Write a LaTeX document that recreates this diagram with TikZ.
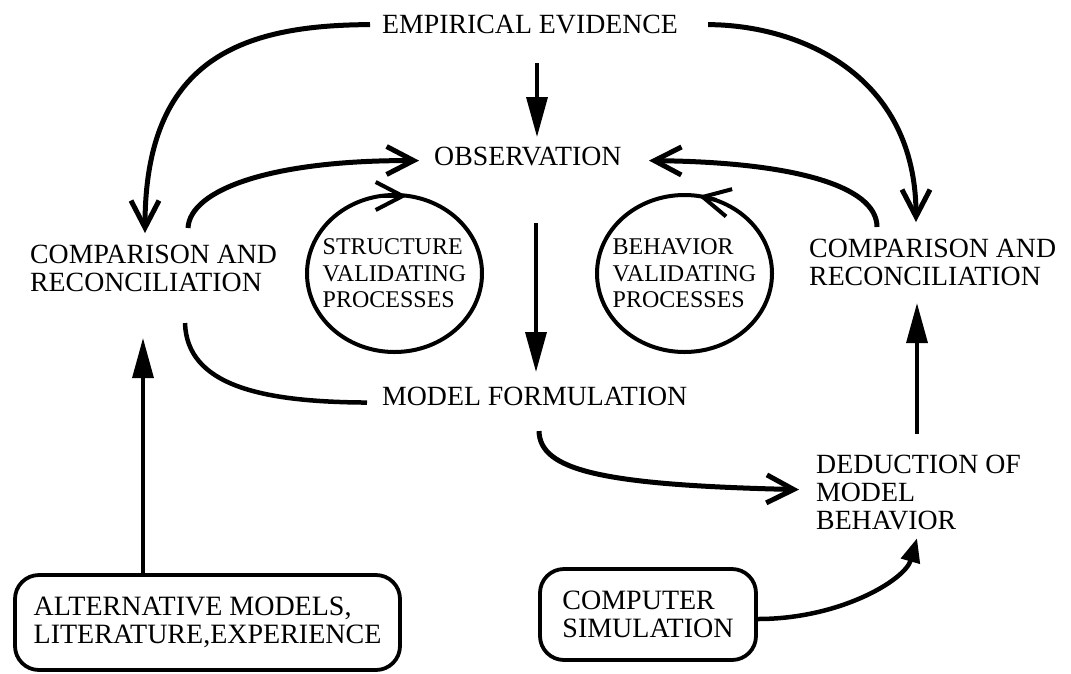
\documentclass[tikz,border=0pt]{standalone}
\usepackage{fontspec}
\setmainfont{Liberation Serif}
\usepackage{tikz}
\usetikzlibrary{positioning, arrows.meta, shapes.geometric}

\begin{document}
\begin{tikzpicture}[x=1pt, y=-1pt,
    lbl/.style={inner sep=0pt, anchor=north west, align=left, font=\fontsize{27.8}{28}\selectfont},
    cyc/.style={inner sep=0pt, align=left, font=\fontsize{24}{26.5}\selectfont},
    ring/.style={line width=4pt},
    src/.style={draw, rounded corners=24pt, line width=3.8pt, inner sep=0pt, align=left, font=\fontsize{28}{27.5}\selectfont},
    curvy/.style={line width=5pt, -{Straight Barb[length=27pt,width=28pt]}},
    bare/.style={line width=4.5pt},
    upright/.style={line width=3.5pt, -{Triangle[length=40pt,width=21pt]}},
    nudge/.style={line width=4.5pt, -{Triangle[length=24pt,width=19pt]}}]
        \useasboundingbox (0,0) rectangle (1071,673);
        \node[lbl] (EV) at (382,15) {EMPIRICAL EVIDENCE};
        \node[lbl] (OB) at (434,147) {OBSERVATION};
        \node[lbl] (CL) at (30,245) {COMPARISON AND\\RECONCILIATION};
        \node[lbl] (CR) at (809,239) {COMPARISON AND\\RECONCILIATION};
        \node[lbl] (MF) at (382,387) {MODEL FORMULATION};
        \node[lbl] (DB) at (816,455) {DEDUCTION OF\\MODEL\\BEHAVIOR};
        \node[cyc] (SV) at (394.5,273.5) {STRUCTURE\\VALIDATING\\PROCESSES};
        \node[cyc] (BV) at (684.5,273.5) {BEHAVIOR\\VALIDATING\\PROCESSES};
        \node[src, minimum width=385pt, minimum height=95pt] (AM) at (207.5,622.5) {ALTERNATIVE MODELS,\\LITERATURE,EXPERIENCE};
        \node[src, minimum width=216pt, minimum height=91pt] (CS) at (648,614.5) {COMPUTER\\SIMULATION};
        \draw[ring] (SV.center) ellipse [x radius=87.5pt, y radius=78.5pt];
        \draw[ring] (BV.center) ellipse [x radius=87.5pt, y radius=78.5pt];
        \draw[curvy] ([xshift=-12pt]EV.west) .. controls (240,25) and (145,60) .. ([xshift=115pt,yshift=12pt]CL.north west);
        \draw[curvy] ([xshift=30pt]EV.east) .. controls (800,25) and (916,75) .. ([xshift=107pt,yshift=17pt]CR.north west);
        \draw[curvy] ([xshift=158pt,yshift=17pt]CL.north west) .. controls (190,190) and (270,160) .. ([xshift=-15pt,yshift=-4pt]OB.west);
        \draw[curvy] ([xshift=68pt,yshift=12pt]CR.north west) .. controls (877,185) and (790,162) .. ([xshift=215pt,yshift=-4pt]OB.west);
        \draw[bare] ([xshift=155pt,yshift=-31pt]CL.south west) .. controls (187,385) and (260,402) .. ([xshift=-15pt,yshift=-6pt]MF.west);
        \draw[curvy] ([xshift=157pt,yshift=-25pt]MF.south west) .. controls (540,470) and (600,485) .. ([xshift=-17pt,yshift=3pt]DB.west);
        \draw[nudge] ([yshift=-4.5pt]CS.east) .. controls (840,619) and (905,580) .. ([xshift=101pt,yshift=-8pt]DB.south west);
        \draw[upright] ([xshift=155pt,yshift=-29pt]EV.south west) -- ([xshift=103pt,yshift=10pt]OB.north west);
        \draw[upright] ([xshift=102pt,yshift=-57pt]OB.south west) -- ([xshift=154pt,yshift=15pt]MF.north west);
        \draw[upright] ([xshift=-64.5pt]AM.north) -- ([xshift=113pt,yshift=-46pt]CL.south west);
        \draw[upright] ([xshift=101pt,yshift=21pt]DB.north west) -- ([xshift=108pt,yshift=-17pt]CR.south west);
        \draw[curvy, line width=4pt] ([xshift=-16pt,yshift=77.5pt]SV.center) -- ([xshift=12.5pt,yshift=77.5pt]SV.center);
        \draw[curvy, line width=4pt] ([xshift=32pt,yshift=73.5pt]BV.center) -- ([xshift=14pt,yshift=77.5pt]BV.center);
    \end{tikzpicture}
\end{document}
